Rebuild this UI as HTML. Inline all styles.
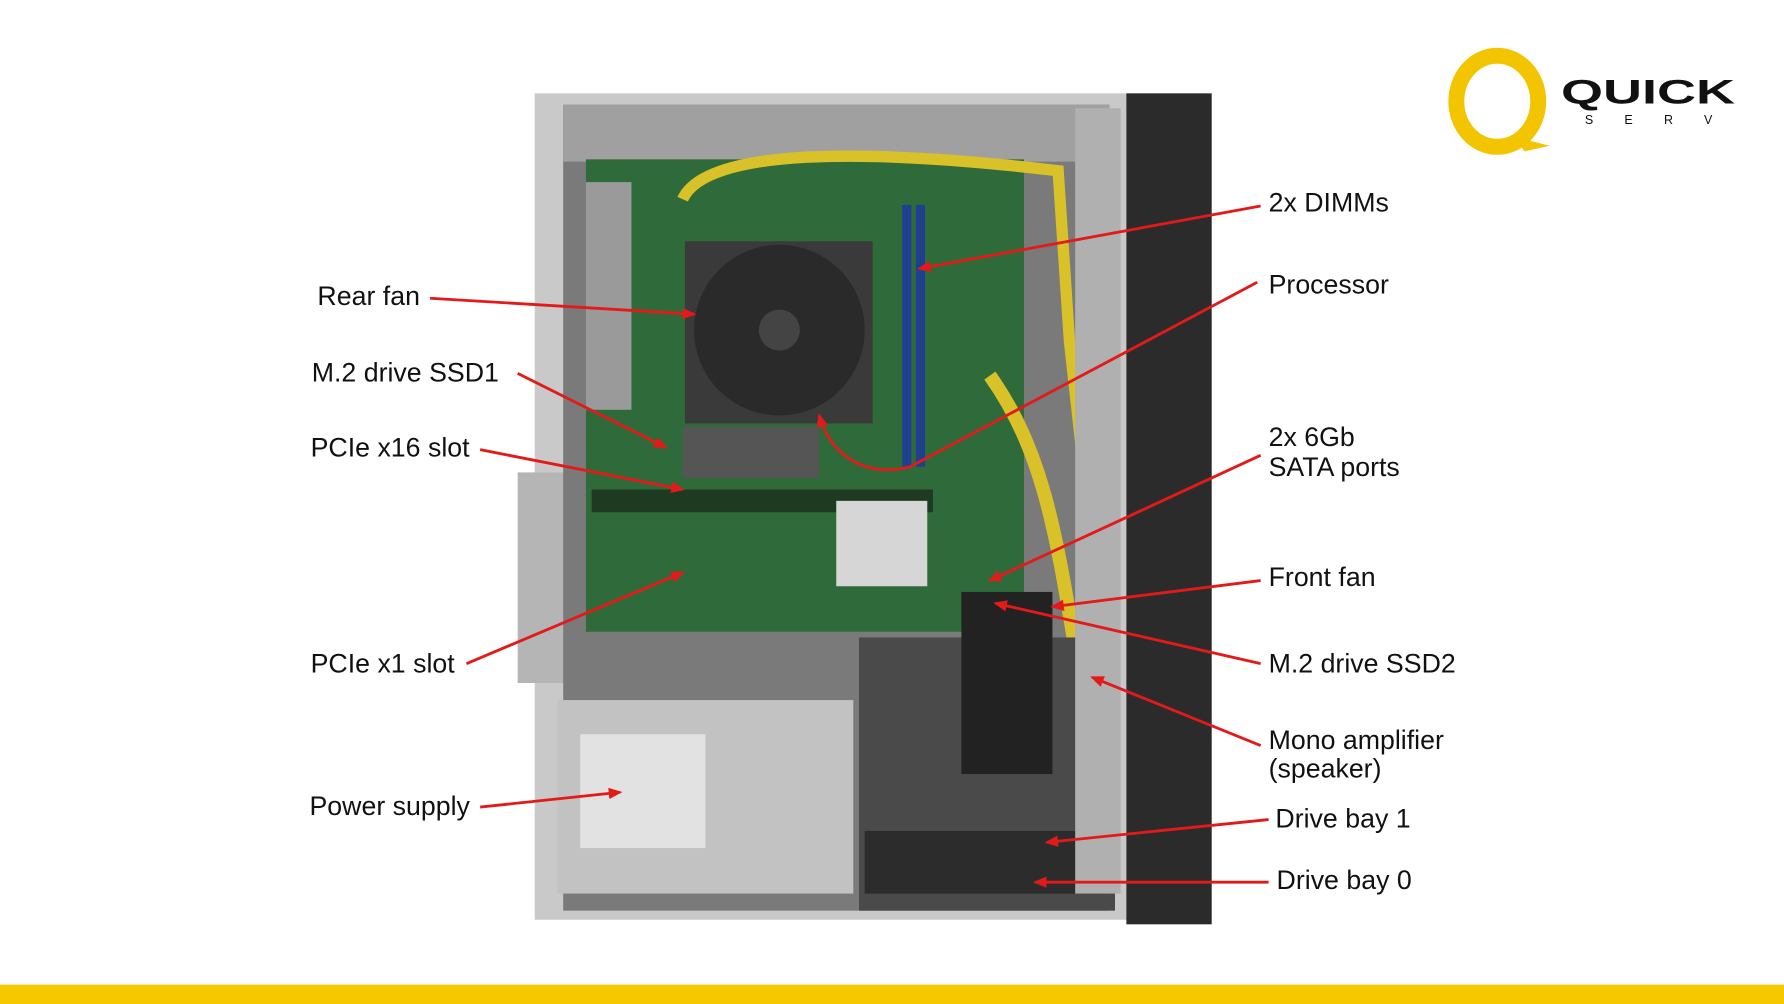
<!DOCTYPE html>
<html><head><meta charset="utf-8"><style>
html,body{margin:0;padding:0;background:#fff;width:1784px;height:1004px;overflow:hidden}
svg{display:block}
text{font-family:"Liberation Sans",Arial,sans-serif}
</style></head><body>
<svg width="1784" height="1004" viewBox="0 0 1568 882" preserveAspectRatio="none">
<rect width="1568" height="882" fill="#fff"/>
<rect x="0" y="865" width="1568" height="17" fill="#f5c800"/>
<!-- case -->
<rect x="470" y="82" width="525" height="726" fill="#c9c9c9"/>
<rect x="455" y="415" width="70" height="185" fill="#b5b5b5"/>
<rect x="495" y="92" width="480" height="708" fill="#7a7a7a"/>
<rect x="495" y="92" width="480" height="50" fill="#a0a0a0"/>
<rect x="515" y="140" width="385" height="415" fill="#2f6b3a"/>
<rect x="515" y="160" width="40" height="200" fill="#9a9a9a"/>
<rect x="520" y="430" width="300" height="20" fill="#1e3b22"/>
<rect x="735" y="440" width="80" height="75" fill="#d6d6d6"/>
<rect x="600" y="375" width="120" height="45" fill="#555"/>
<rect x="602" y="212" width="165" height="160" fill="#3a3a3a"/>
<circle cx="685" cy="290" r="75" fill="#2a2a2a"/>
<circle cx="685" cy="290" r="18" fill="#444"/>
<rect x="793" y="180" width="8" height="230" fill="#1f3f8f"/>
<rect x="805" y="180" width="8" height="230" fill="#1f3f8f"/>
<path d="M600 175 C620 130 760 130 930 150 L940 300 L960 480 L965 640" fill="none" stroke="#d9c12a" stroke-width="10"/>
<path d="M870 330 C920 400 930 480 950 600" fill="none" stroke="#d9c12a" stroke-width="12"/>
<rect x="490" y="615" width="260" height="170" fill="#c2c2c2"/>
<rect x="510" y="645" width="110" height="100" fill="#e2e2e2"/>
<rect x="755" y="560" width="225" height="240" fill="#4a4a4a"/>
<rect x="760" y="730" width="210" height="55" fill="#2c2c2c"/>
<rect x="845" y="520" width="80" height="160" fill="#222"/>
<rect x="990" y="82" width="75" height="730" fill="#2b2b2b"/>
<rect x="945" y="95" width="40" height="690" fill="#b0b0b0"/>
<!-- logo -->
<ellipse cx="1316" cy="89" rx="36" ry="40" fill="none" stroke="#f3c400" stroke-width="14"/>
<path d="M1330 120 L1362 128 L1340 133 Z" fill="#f3c400"/>
<text x="1372" y="91" font-size="30" font-weight="900" textLength="153" lengthAdjust="spacingAndGlyphs" fill="#111">QUICK</text>
<text x="1393" y="109" font-size="11" textLength="112" lengthAdjust="spacing" fill="#111">SERV</text>
<!-- arrows -->
<defs><marker id="a" markerWidth="12" markerHeight="10" refX="10" refY="5" orient="auto" markerUnits="userSpaceOnUse" viewBox="0 0 12 10"><path d="M0 0 L12 5 L0 10 Z" fill="#e21a1a"/></marker></defs>
<g stroke="#e21a1a" stroke-width="2.5" fill="none" marker-end="url(#a)">
<line x1="378" y1="262" x2="610" y2="276"/>
<line x1="455" y1="328" x2="585" y2="393"/>
<line x1="422" y1="395" x2="600" y2="430"/>
<line x1="410" y1="583" x2="600" y2="503"/>
<line x1="422" y1="709" x2="545" y2="696"/>
<line x1="1108" y1="181" x2="808" y2="236"/>
<path d="M1105 248 L800 410 C760 420 730 400 720 365"/>
<line x1="1108" y1="400" x2="870" y2="510"/>
<line x1="1108" y1="510" x2="925" y2="533"/>
<line x1="1108" y1="583" x2="875" y2="530"/>
<line x1="1108" y1="655" x2="960" y2="595"/>
<line x1="1115" y1="720" x2="920" y2="740"/>
<line x1="1115" y1="775" x2="910" y2="775"/>
</g>
<g font-size="23.5" fill="#111">
<text x="279" y="268">Rear fan</text>
<text x="274" y="335">M.2 drive SSD1</text>
<text x="273" y="401">PCIe x16 slot</text>
<text x="273" y="591">PCIe x1 slot</text>
<text x="272" y="716">Power supply</text>
<text x="1115" y="186">2x DIMMs</text>
<text x="1115" y="258">Processor</text>
<text x="1115" y="392">2x 6Gb</text>
<text x="1115" y="418">SATA ports</text>
<text x="1115" y="515">Front fan</text>
<text x="1115" y="591">M.2 drive SSD2</text>
<text x="1115" y="658">Mono amplifier</text>
<text x="1115" y="683">(speaker)</text>
<text x="1121" y="727">Drive bay 1</text>
<text x="1122" y="781">Drive bay 0</text>
</g>
</svg>
</body></html>
